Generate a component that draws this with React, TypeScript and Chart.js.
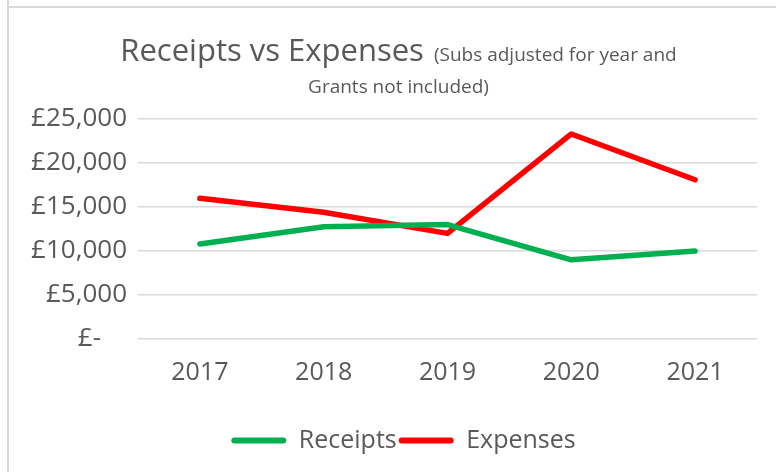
import React, { useEffect, useRef } from 'react';
import { Chart, registerables } from 'chart.js';

Chart.register(...registerables);

const categories = ['2017', '2018', '2019', '2020', '2021'];
const receipts = [10800, 12750, 13000, 9000, 10000];
const expenses = [16000, 14400, 12000, 23300, 18100];
const seriesNames = ['Receipts', 'Expenses'];
const seriesColors = ['#00b050', '#ff0000'];
const yMin = 0;
const yMax = 25000;
const yStep = 5000;
const titleMain = 'Receipts vs Expenses';
const titleSub1 = '(Subs adjusted for year and';
const titleSub2 = 'Grants not included)';

const FONT = '"Open Sans", sans-serif';
const TEXT = '#595959';
const GRID = '#d9d9d9';

const titlePlugin = {
  id: 'excelTitle',
  afterLayout(chart: any) {
    const lg = chart.legend;
    if (lg) {
      lg.left += 25;
      lg.right += 25;
    }
  },
  afterDraw(chart: any) {
    const ctx = chart.ctx;
    ctx.save();
    ctx.fillStyle = TEXT;
    ctx.textBaseline = 'alphabetic';
    ctx.textAlign = 'left';
    ctx.font = `31px ${FONT}`;
    const w1 = ctx.measureText(titleMain).width;
    ctx.font = `19px ${FONT}`;
    const w2 = ctx.measureText(titleSub1).width;
    const gap = 10;
    const cx = 398.5;
    const x = cx - (w1 + gap + w2) / 2;
    ctx.font = `31px ${FONT}`;
    ctx.fillText(titleMain, x, 61);
    ctx.font = `19px ${FONT}`;
    ctx.fillText(titleSub1, x + w1 + gap, 61);
    ctx.textAlign = 'center';
    ctx.fillText(titleSub2, cx, 93);
    ctx.restore();
  },
};

function formatGBP(v: number) {
  if (v === 0) return '£-\u2002\u2002';
  return '£' + Number(v).toLocaleString('en-GB');
}

export default function App() {
  const ref = useRef<HTMLCanvasElement | null>(null);

  useEffect(() => {
    if (!ref.current) return;
    const chart = new Chart(ref.current, {
      type: 'line',
      data: {
        labels: categories,
        datasets: [
          {
            label: seriesNames[0],
            data: receipts,
            borderColor: seriesColors[0],
            backgroundColor: seriesColors[0],
            borderWidth: 5.5,
            borderCapStyle: 'round',
            borderJoinStyle: 'round',
            pointRadius: 0,
            tension: 0,
          },
          {
            label: seriesNames[1],
            data: expenses,
            borderColor: seriesColors[1],
            backgroundColor: seriesColors[1],
            borderWidth: 5.5,
            borderCapStyle: 'round',
            borderJoinStyle: 'round',
            pointRadius: 0,
            tension: 0,
          },
        ],
      },
      options: {
        animation: false,
        responsive: false,
        maintainAspectRatio: false,
        layout: { padding: { top: 119, right: 19, bottom: 9, left: 0 } },
        scales: {
          x: {
            offset: true,
            grid: { display: false, drawTicks: false },
            border: { display: false },
            ticks: { color: TEXT, font: { family: FONT, size: 25 }, padding: 19, maxRotation: 0 },
            afterFit: (s: any) => { s.height = 87; },
          },
          y: {
            min: yMin,
            max: yMax,
            grid: { color: GRID, lineWidth: 1.5, drawTicks: false },
            border: { display: false },
            ticks: {
              stepSize: yStep,
              color: TEXT,
              font: { family: FONT, size: 26 },
              padding: 11,
              callback: (v: any) => formatGBP(Number(v)),
            },
            afterFit: (s: any) => { s.width = 138; },
          },
        },
        plugins: {
          title: { display: false },
          tooltip: { enabled: false },
          legend: {
            position: 'bottom',
            labels: {
              color: TEXT,
              font: { family: FONT, size: 25 },
              boxWidth: 55,
              boxHeight: 6,
              padding: 2,
              useBorderRadius: true,
              borderRadius: 3,
              generateLabels: (c: any) =>
                c.data.datasets.map((d: any, i: number) => ({
                  text: d.label,
                  fillStyle: d.borderColor,
                  strokeStyle: d.borderColor,
                  lineWidth: 0,
                  fontColor: TEXT,
                  hidden: false,
                  datasetIndex: i,
                  borderRadius: 3,
                })),
            },
          },
        },
      },
      plugins: [titlePlugin],
    } as any);
    return () => chart.destroy();
  }, []);

  return (
    <div style={{ position: 'fixed', left: 0, top: 0, width: 776, height: 472, background: '#ffffff', overflow: 'hidden' }}>
      <canvas ref={ref} width={776} height={472} style={{ position: 'absolute', left: 0, top: 0, width: 776, height: 472 }} />
      <div style={{ position: 'absolute', left: 7, top: 0, width: 2, height: 472, background: GRID }} />
      <div style={{ position: 'absolute', left: 8, top: 6, right: 0, height: 2, background: GRID }} />
    </div>
  );
}
